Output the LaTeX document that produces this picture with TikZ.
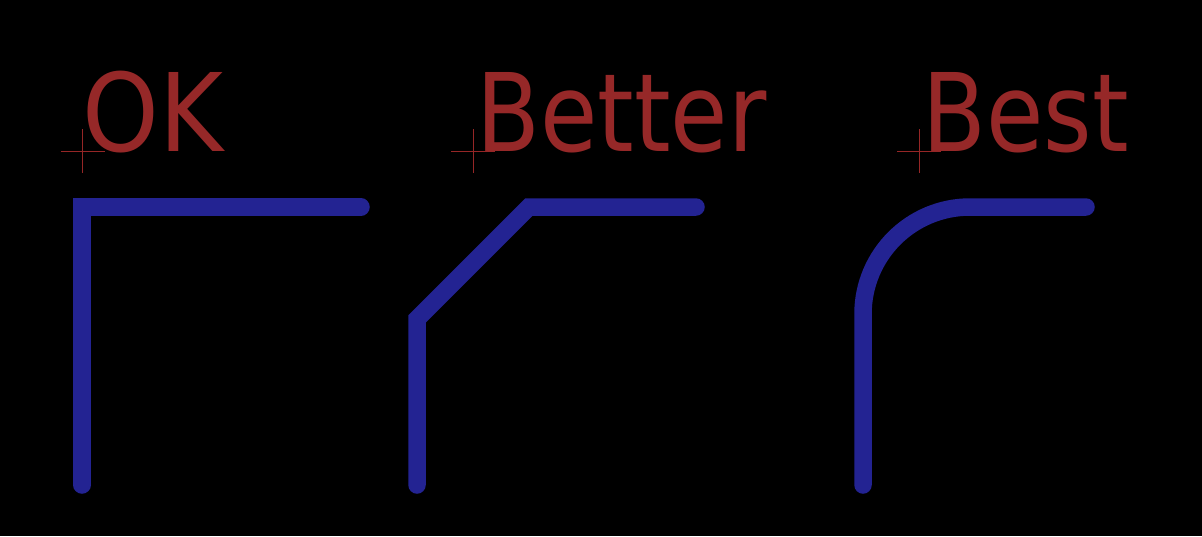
\documentclass[tikz,border=0pt]{standalone}
\usepackage{fontspec}
\newfontfamily\labelfont{DejaVu Sans Condensed}
\usepackage{tikz}
\usetikzlibrary{positioning}
\definecolor{tracecol}{RGB}{35,35,146}
\definecolor{labelcol}{RGB}{150,40,40}
\definecolor{crosscol}{RGB}{150,38,38}

\begin{document}
\begin{tikzpicture}[x=1pt,y=-1pt,
    trace/.style={draw=tracecol,line width=17.5pt,line cap=round,line join=miter},
    reflabel/.style={labelcol,anchor=base west,inner sep=0pt,outer sep=0pt,
      font=\labelfont\fontsize{108.4}{120}\selectfont},
    narrowlabel/.style={reflabel,xscale=0.955,xshift=3.5pt},
    anchorcross/.style={draw=crosscol,line width=1pt}]

    \fill[black] (0,0) rectangle (1202,536);
    \useasboundingbox (0,0) rectangle (1202,536);

    % text anchors
    \coordinate (okpos) at (82.7,151);
    \coordinate (betterpos) at (473.3,151);
    \coordinate (bestpos) at (919.3,151);

    \draw[anchorcross] (okpos) ++(-22,0) -- ++(44,0) (okpos) ++(0,-22) -- ++(0,44);
    \draw[anchorcross] (betterpos) ++(-22,0) -- ++(44,0) (betterpos) ++(0,-22) -- ++(0,44);
    \draw[anchorcross] (bestpos) ++(-22,0) -- ++(44,0) (bestpos) ++(0,-22) -- ++(0,44);

    \node[reflabel] (ok) at (okpos) {OK};
    \node[narrowlabel] (better) at (betterpos) {Better};
    \node[narrowlabel] (best) at (bestpos) {Best};

    % traces
    \draw[trace] (82,485) -- (82,207) -- (361,207);
    \draw[trace] (417,485) -- (417,319) -- (529,207) -- (696,207);
    \draw[trace] (863,485) -- (863,314) arc[start angle=180,end angle=90,radius=107pt] -- (1086,207);
\end{tikzpicture}
\end{document}
